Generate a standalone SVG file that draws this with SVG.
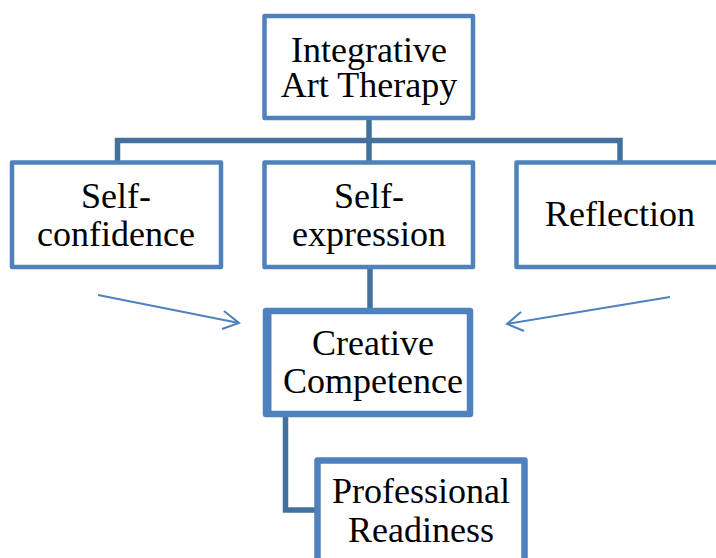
<svg xmlns="http://www.w3.org/2000/svg" width="716" height="558" viewBox="0 0 716 558">
<style>
.box{fill:#fff;stroke:#4F81BD;stroke-width:4.5;stroke-linejoin:round}
.thick{fill:#fff;stroke:#4F81BD;stroke-width:6.5;stroke-linejoin:round}
.conn{fill:none;stroke:#41719C;stroke-width:5.5}
.arr{fill:none;stroke:#4F81BD;stroke-width:2}
text{font-family:"Liberation Serif","Times New Roman",serif;font-size:36px;fill:#000;text-anchor:middle}
</style>
<rect width="716" height="558" fill="#fff"/>
<g id="connectors">
<polyline class="conn" points="117.5,161 117.5,140.5 620,140.5 620,161"/>
<line class="conn" x1="369" y1="118" x2="369" y2="161"/>
<line class="conn" x1="370" y1="269" x2="370" y2="310"/>
<polyline class="conn" points="285.5,416 285.5,510 316,510"/>
<g class="arr">
<line x1="98" y1="295" x2="239" y2="323"/>
<polyline points="224,311 239,323 222,329"/>
<line x1="670" y1="297" x2="507" y2="324"/>
<polyline points="521,312 507,324 524,331"/>
</g>
</g>
<g id="n-iat">
<rect class="box" x="264.5" y="16" width="208.5" height="102"/>
<text x="369" y="62">Integrative</text>
<text x="369" y="97">Art Therapy</text>
</g>
<g id="n-sc">
<rect class="box" x="12" y="162.5" width="209" height="104.5"/>
<text x="116" y="208">Self-</text>
<text x="116" y="246">confidence</text>
</g>
<g id="n-se">
<rect class="box" x="264.5" y="162.5" width="208.5" height="104.5"/>
<text x="369" y="208">Self-</text>
<text x="369" y="246">expression</text>
</g>
<g id="n-ref">
<rect class="box" x="516.5" y="162.5" width="210" height="104.5"/>
<text x="620" y="226">Reflection</text>
</g>
<g id="n-cc">
<rect class="thick" x="266" y="311" width="204" height="103"/>
<line x1="270" y1="311" x2="270" y2="414" stroke="#4F81BD" stroke-width="3"/>
<text x="373" y="355">Creative</text>
<text x="373" y="393">Competence</text>
</g>
<g id="n-pr">
<rect class="thick" x="317.5" y="460.5" width="207" height="110"/>
<text x="421" y="503">Professional</text>
<text x="421" y="542">Readiness</text>
</g>
</svg>
